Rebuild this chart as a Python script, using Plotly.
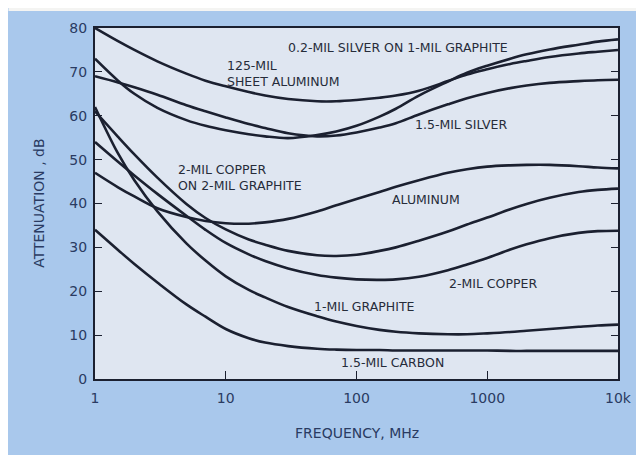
import math
import plotly.graph_objects as go

# frequency grid, MHz
freq = [1, 1.5, 2, 3, 5, 7, 10, 15, 20, 30, 50, 70, 100, 150, 200, 300, 500, 700,
        1000, 1500, 2000, 3000, 5000, 7000, 10000]

# attenuation, dB
silver_on_graphite = [80, 77.0, 75.0, 72.4, 69.6, 68.0, 66.7, 65.4, 64.6, 63.8, 63.3, 63.3, 63.6,
                      64.1, 64.6, 65.7, 67.9, 69.4, 70.6, 71.8, 72.5, 73.4, 74.2, 74.6, 75.0]
sheet_aluminum = [73, 68.0, 65.0, 61.8, 59.0, 57.7, 56.7, 55.8, 55.3, 54.9, 55.6, 56.4, 57.7,
                  59.8, 61.6, 64.6, 67.8, 69.8, 71.4, 73.0, 74.0, 75.1, 76.2, 76.9, 77.4]
silver_15 = [69, 67.6, 66.5, 64.8, 62.4, 61.0, 59.6, 58.1, 57.2, 56.0, 55.3, 55.5, 56.2,
             57.3, 58.3, 60.3, 62.6, 64.0, 65.2, 66.3, 66.9, 67.5, 67.9, 68.1, 68.2]
aluminum = [47, 43.7, 41.6, 38.9, 36.9, 36.0, 35.5, 35.4, 35.7, 36.5, 38.2, 39.6, 41.0,
            42.6, 43.8, 45.3, 47.0, 47.8, 48.4, 48.7, 48.8, 48.8, 48.5, 48.2, 48.0]
copper_on_graphite = [61, 55.2, 51.2, 45.9, 39.9, 36.7, 34.1, 31.8, 30.6, 29.2, 28.2, 28.05, 28.3,
                      29.2, 30.0, 31.5, 33.6, 35.2, 36.8, 38.7, 39.9, 41.3, 42.6, 43.1, 43.4]
copper = [54, 49.5, 46.4, 42.2, 37.2, 34.0, 31.0, 28.4, 26.9, 25.2, 23.7, 23.1, 22.7,
          22.6, 22.7, 23.3, 24.8, 26.1, 27.6, 29.5, 30.7, 32.1, 33.3, 33.7, 33.8]
graphite = [62, 51.4, 45.3, 38.2, 30.9, 27.0, 23.4, 20.3, 18.6, 16.4, 14.3, 13.1, 12.1,
            11.2, 10.75, 10.4, 10.2, 10.2, 10.4, 10.7, 11.0, 11.4, 11.9, 12.2, 12.4]
carbon = [34, 29.4, 26.2, 22.0, 17.0, 14.2, 11.4, 9.3, 8.3, 7.5, 6.9, 6.7, 6.6,
          6.6, 6.5, 6.5, 6.5, 6.5, 6.5, 6.4, 6.4, 6.4, 6.4, 6.4, 6.4]

series = [silver_on_graphite, sheet_aluminum, silver_15, aluminum,
          copper_on_graphite, copper, graphite, carbon]

# curve labels: text, freq (MHz), dB, anchor
labels = [
    ("0.2-MIL SILVER ON 1-MIL GRAPHITE", 209, 75.6, "center"),
    ("125-MIL<br>SHEET ALUMINUM", 9.9, 69.6, "left"),
    ("1.5-MIL SILVER", 630, 57.9, "center"),
    ("2-MIL COPPER<br>ON 2-MIL GRAPHITE", 4.17, 45.9, "left"),
    ("ALUMINUM", 340, 40.9, "center"),
    ("2-MIL COPPER", 1100, 21.8, "center"),
    ("1-MIL GRAPHITE", 116, 16.5, "center"),
    ("1.5-MIL CARBON", 190, 3.7, "center"),
]

x_ticks = [1, 10, 100, 1000, 10000]
x_ticktext = ["1", "10", "100", "1000", "10k"]
y_ticks = [0, 10, 20, 30, 40, 50, 60, 70, 80]

INK = "#1b2030"
TXT = "#2a3b62"
FONT = "DejaVu Sans"

fig = go.Figure()
for ys in series:
    fig.add_trace(go.Scatter(x=freq, y=ys, mode="lines",
                             line=dict(color=INK, width=2.6, shape="spline", smoothing=1.0),
                             hoverinfo="skip"))

for text, fx, fy, anchor in labels:
    fig.add_annotation(x=math.log10(fx), y=fy, xref="x", yref="y", text=text, showarrow=False,
                       xanchor=anchor, align="left",
                       font=dict(family=FONT, size=12.5, color="#262c3a"))

fig.add_annotation(xref="paper", yref="paper", x=-57/526, y=0.5, text="ATTENUATION , dB",
                   textangle=-90, showarrow=False, xanchor="center", yanchor="middle",
                   font=dict(family=FONT, size=14, color=TXT))
fig.add_annotation(xref="paper", yref="paper", x=0.5, y=-54/351, text="FREQUENCY, MHz",
                   showarrow=False, xanchor="center", yanchor="middle",
                   font=dict(family=FONT, size=14, color=TXT))

# thin light strip above the blue panel
fig.add_shape(type="rect", xref="paper", yref="paper", layer="below",
              x0=-87/526, x1=1 + 23/526, y0=1 + 17/351, y1=1 + 20/351,
              fillcolor="#f4f4f2", line=dict(width=0))

fig.update_layout(
    width=636, height=447,
    margin=dict(l=87, r=23, t=20, b=76),
    paper_bgcolor="#a9c8ec",
    plot_bgcolor="#dfe6f1",
    showlegend=False,
)
fig.update_xaxes(type="log", range=[0, 4], tickvals=x_ticks, ticktext=x_ticktext,
                 ticks="inside", ticklen=8, tickwidth=1.2, tickcolor=INK,
                 showline=True, linecolor=INK, linewidth=2, mirror=True,
                 showgrid=False, zeroline=False, ticklabelstandoff=5,
                 tickfont=dict(family=FONT, size=14, color=TXT))
fig.update_yaxes(range=[0, 80], tickvals=y_ticks,
                 ticks="inside", ticklen=7, tickwidth=1.2, tickcolor=INK,
                 showline=True, linecolor=INK, linewidth=2, mirror="ticks",
                 showgrid=False, zeroline=False, ticklabelstandoff=3,
                 tickfont=dict(family=FONT, size=14, color=TXT))

fig.write_html("out.html")
